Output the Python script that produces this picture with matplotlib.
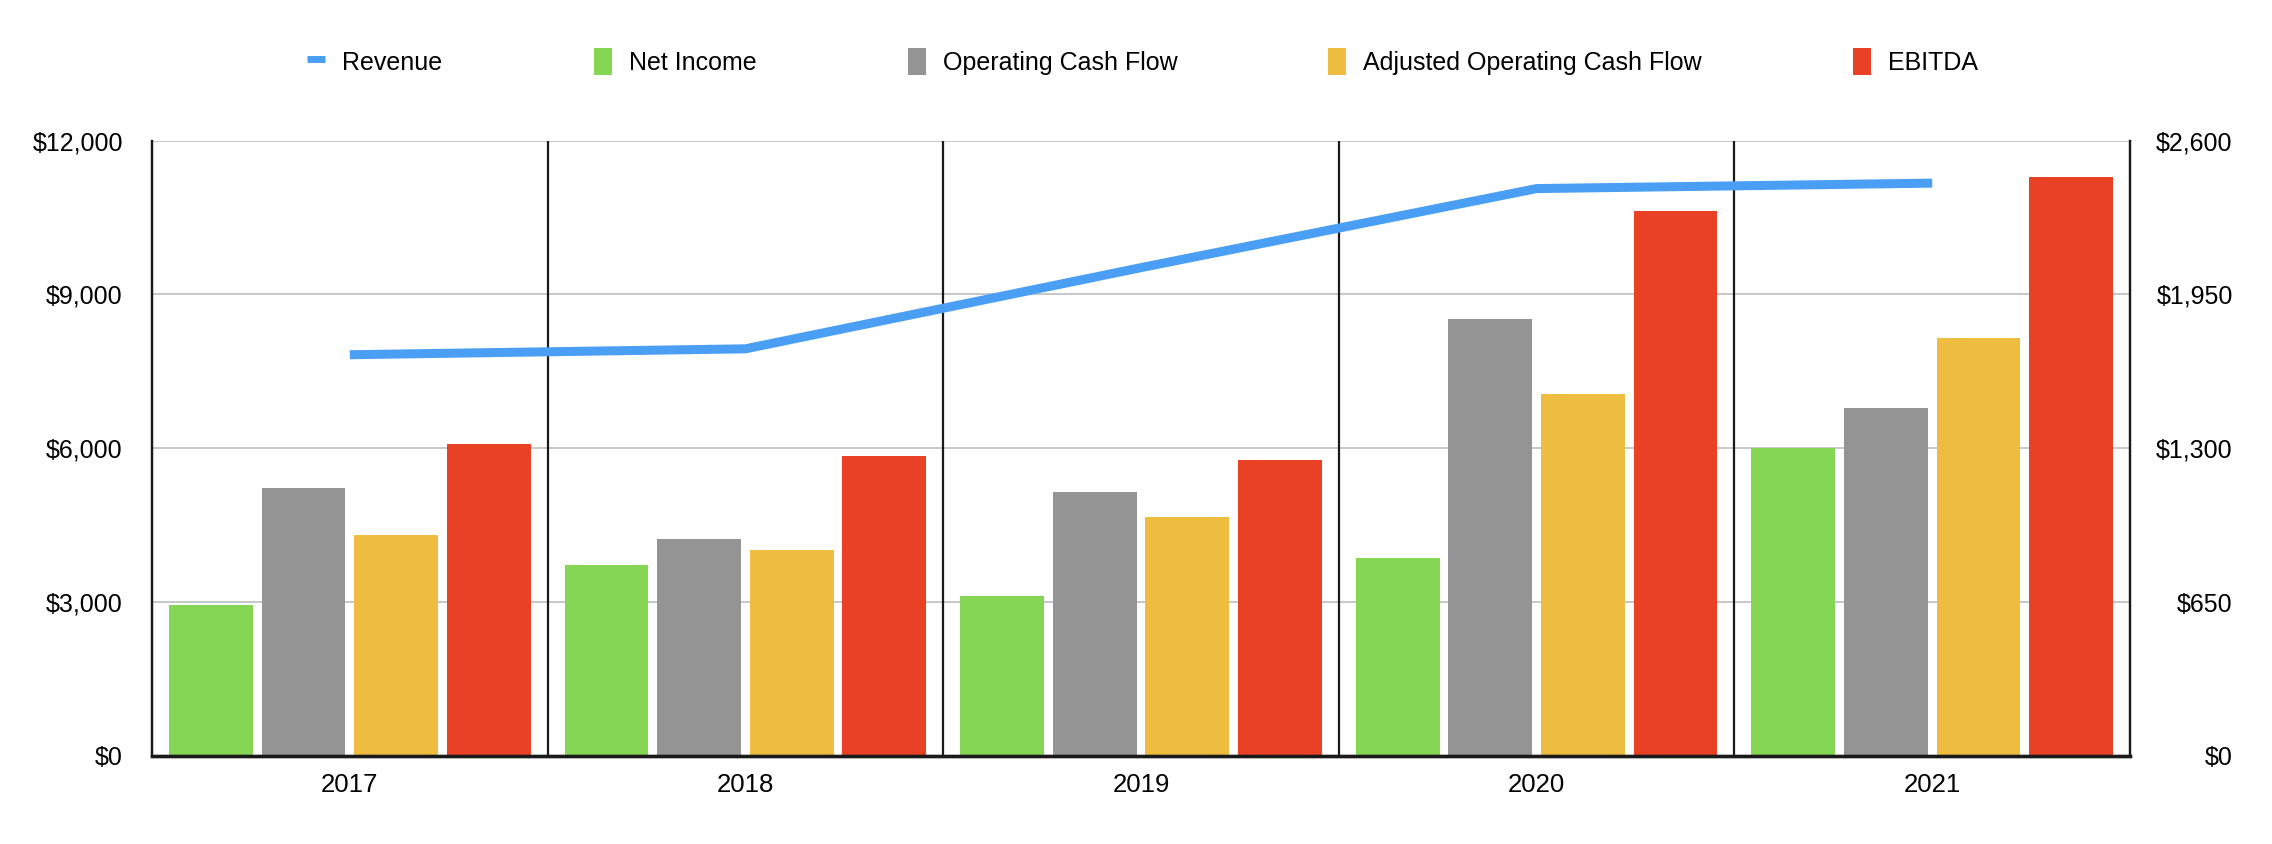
import matplotlib
matplotlib.use("Agg")
from matplotlib import pyplot as plt
from matplotlib.lines import Line2D
from matplotlib.patches import Patch
import numpy as np

plt.rcParams['font.family'] = ['Liberation Sans', 'DejaVu Sans']

# Data
years = ["2017", "2018", "2019", "2020", "2021"]
revenue = [1695, 1720, 2063, 2397, 2420]
net_income = [2945, 3720, 3110, 3869, 6000]
operating_cf = [5224, 4240, 5141, 8520, 6776]
adjusted_cf = [4312, 4011, 4668, 7065, 8155]
ebitda = [6092, 5843, 5762, 10619, 11292]

bar_series = [
    ("Net Income", net_income, "#84d654"),
    ("Operating Cash Flow", operating_cf, "#949494"),
    ("Adjusted Operating Cash Flow", adjusted_cf, "#eebd40"),
    ("EBITDA", ebitda, "#e94126"),
]
line_color = "#4a9ff5"

fig = plt.figure(figsize=(22.72, 8.44), dpi=100)
ax = fig.add_axes([0.0669, 0.1043, 0.8706, 0.7292])
ax2 = ax.twinx()

x = np.arange(len(years))
pitch = 0.234
width = 0.212
for i, (name, vals, col) in enumerate(bar_series):
    ax.bar(x + (i - 1.5) * pitch, vals, width, color=col, zorder=2)

# category separators
for b in x[:-1] + 0.5:
    ax.axvline(b, color="#1a1a1a", lw=1.6, zorder=3)

ax.set_xlim(-0.5, len(years) - 0.5)
ax.set_ylim(0, 12000)
ax.set_yticks(np.arange(0, 12001, 3000))
ax.set_yticklabels([f"${v:,.0f}" for v in np.arange(0, 12001, 3000)])
ax.set_xticks(x)
ax.set_xticklabels(years)
ax.set_axisbelow(True)
ax.yaxis.grid(True, color="#bdbdbd", lw=1.2)
ax.tick_params(axis="y", length=0, pad=21, labelsize=18)
ax.tick_params(axis="x", length=0, pad=12, labelsize=18.5)

ax2.plot(x, revenue, color=line_color, lw=6.5, solid_capstyle="butt",
         solid_joinstyle="miter", zorder=5)
ax2.set_ylim(0, 2600)
rticks = np.arange(0, 2601, 650)
ax2.set_yticks(rticks)
ax2.set_yticklabels([f"${v:,.0f}" for v in rticks])
ax2.tick_params(axis="y", length=0, pad=74, labelsize=18)
for lab in ax2.get_yticklabels():
    lab.set_horizontalalignment("right")

for a in (ax, ax2):
    a.spines["top"].set_visible(False)
    for s in ("left", "right"):
        a.spines[s].set_color("#1a1a1a")
        a.spines[s].set_linewidth(1.6)
    a.spines["bottom"].set_color("#1a1a1a")
    a.spines["bottom"].set_linewidth(2.4)

handles = [Line2D([0], [0], color=line_color, lw=5, solid_capstyle="butt")]
labels = ["Revenue"]
for name, vals, col in bar_series:
    handles.append(Patch(facecolor=col, edgecolor="none"))
    labels.append(name)

fig.legend(handles, labels, loc="center", bbox_to_anchor=(0.503, 0.927),
           ncol=5, frameon=False, fontsize=18, handlelength=0.72,
           handleheight=1.25, handletextpad=0.68, columnspacing=6.05)

fig.savefig("out.png", dpi=100)
